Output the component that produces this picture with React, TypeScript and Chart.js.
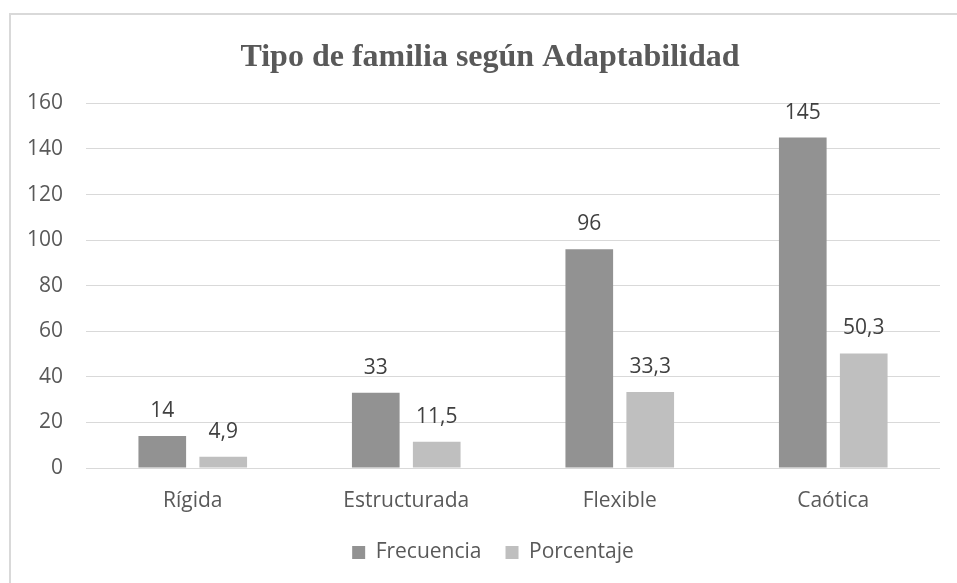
import React, { useEffect, useRef } from "react";
import { Chart, registerables } from "chart.js";

Chart.register(...registerables);

const categories = ["Rígida", "Estructurada", "Flexible", "Caótica"];
const frecuencia = [14, 33, 96, 145];
const porcentaje = [4.9, 11.5, 33.3, 50.3];
const seriesNames = ["Frecuencia", "Porcentaje"];
const titleText = "Tipo de familia según Adaptabilidad";

const fmt = (v: number) => String(v).replace(".", ",");

const framePlugin = {
  id: "frame",
  beforeDraw(chart: any) {
    const ctx = chart.ctx;
    ctx.save();
    ctx.fillStyle = "#ffffff";
    ctx.fillRect(0, 0, chart.width, chart.height);
    ctx.strokeStyle = "#d9d9d9";
    ctx.lineWidth = 2;
    ctx.strokeRect(10, 14, 1000, 1000);
    ctx.restore();
  },
};

const shiftBoxes = {
  id: "shiftBoxes",
  afterLayout(chart: any) {
    const shift = (b: any, d: number) => {
      if (!b) return;
      b.left += d;
      b.right += d;
    };
    shift(chart.titleBlock, 20);
    shift(chart.legend, 23);
  },
};

const valueLabels = {
  id: "valueLabels",
  afterDatasetsDraw(chart: any) {
    const ctx = chart.ctx;
    ctx.save();
    ctx.font = "21px 'Open Sans'";
    ctx.fillStyle = "#404040";
    ctx.textAlign = "center";
    ctx.textBaseline = "middle";
    chart.data.datasets.forEach((ds: any, i: number) => {
      const meta = chart.getDatasetMeta(i);
      meta.data.forEach((bar: any, j: number) => {
        ctx.fillText(fmt(ds.data[j]), bar.x, bar.y - 25);
      });
    });
    ctx.restore();
  },
};

export default function App() {
  const ref = useRef<HTMLCanvasElement>(null);
  useEffect(() => {
    if (!ref.current) return;
    const chart = new Chart(ref.current, {
      type: "bar",
      data: {
        labels: categories,
        datasets: [
          {
            label: seriesNames[0],
            data: frecuencia,
            backgroundColor: "#929292",
            categoryPercentage: 0.571,
            barPercentage: 0.782,
          },
          {
            label: seriesNames[1],
            data: porcentaje,
            backgroundColor: "#bfbfbf",
            categoryPercentage: 0.571,
            barPercentage: 0.782,
          },
        ],
      },
      options: {
        responsive: false,
        animation: false,
        layout: { padding: { left: 0, right: 17, top: 0, bottom: 10 } },
        plugins: {
          title: {
            display: true,
            text: titleText,
            color: "#595959",
            font: { family: "'Liberation Serif'", size: 32, weight: "bold" },
            padding: { top: 39, bottom: 26 },
          },
          legend: {
            position: "bottom",
            labels: {
              color: "#595959",
              font: { family: "'Open Sans'", size: 21 },
              boxWidth: 13,
              boxHeight: 13,
              padding: 24,
            },
          },
          tooltip: { enabled: false },
        },
        scales: {
          x: {
            afterFit: (s: any) => {
              s.height = 50;
            },
            grid: { display: false },
            border: { display: false },
            ticks: {
              color: "#595959",
              font: { family: "'Open Sans'", size: 21 },
              padding: 12,
            },
          },
          y: {
            min: 0,
            max: 160,
            afterFit: (s: any) => {
              s.width = 86;
            },
            grid: { color: "#d9d9d9", lineWidth: 1, drawTicks: false },
            border: { display: false },
            ticks: {
              stepSize: 20,
              color: "#595959",
              font: { family: "'Open Sans'", size: 21 },
              padding: 23,
            },
          },
        },
      },
      plugins: [framePlugin, shiftBoxes, valueLabels],
    });
    return () => chart.destroy();
  }, []);
  return (
    <div style={{ position: "absolute", left: 0, top: 0, width: 957, height: 583 }}>
      <canvas ref={ref} width={957} height={583} />
    </div>
  );
}
